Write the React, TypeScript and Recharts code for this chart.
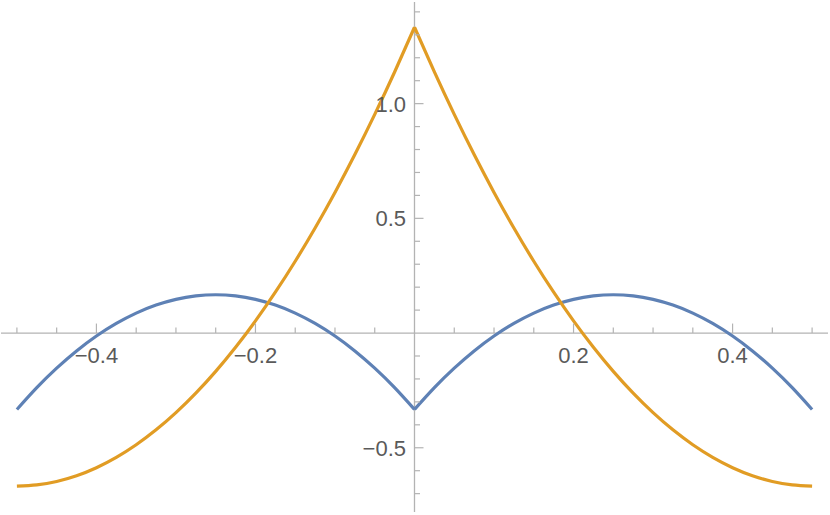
import React from "react";
import { LineChart, Line, XAxis, YAxis, ReferenceLine, ReferenceDot } from "recharts";

const xValues = [
  -0.5, -0.475, -0.45, -0.425, -0.4, -0.375, -0.35, -0.325, -0.3, -0.275, -0.25,
  -0.225, -0.2, -0.175, -0.15, -0.125, -0.1, -0.075, -0.05, -0.025, 0,
  0.025, 0.05, 0.075, 0.1, 0.125, 0.15, 0.175, 0.2, 0.225, 0.25,
  0.275, 0.3, 0.325, 0.35, 0.375, 0.4, 0.425, 0.45, 0.475, 0.5,
];

const blueValues = [
  -0.333, -0.238, -0.153, -0.078, -0.013, 0.042, 0.087, 0.122, 0.147, 0.162, 0.167,
  0.162, 0.147, 0.122, 0.087, 0.042, -0.013, -0.078, -0.153, -0.238, -0.333,
  -0.238, -0.153, -0.078, -0.013, 0.042, 0.087, 0.122, 0.147, 0.162, 0.167,
  0.162, 0.147, 0.122, 0.087, 0.042, -0.013, -0.078, -0.153, -0.238, -0.333,
];

const orangeValues = [
  -0.667, -0.662, -0.647, -0.622, -0.587, -0.542, -0.487, -0.422, -0.347, -0.262, -0.167,
  -0.062, 0.053, 0.178, 0.313, 0.458, 0.613, 0.778, 0.953, 1.138, 1.333,
  1.138, 0.953, 0.778, 0.613, 0.458, 0.313, 0.178, 0.053, -0.062, -0.167,
  -0.262, -0.347, -0.422, -0.487, -0.542, -0.587, -0.622, -0.647, -0.662, -0.667,
];

const xMajorTicks = [-0.4, -0.2, 0.2, 0.4];
const xTickLabels = ["\u22120.4", "\u22120.2", "0.2", "0.4"];
const xMinorTicks = [-0.5, -0.45, -0.35, -0.3, -0.25, -0.15, -0.1, -0.05, 0.05, 0.1, 0.15, 0.25, 0.3, 0.35, 0.45, 0.5];

const yMajorTicks = [-0.5, 0.5, 1.0];
const yTickLabels = ["\u22120.5", "0.5", "1.0"];
const yMinorTicks = [-0.7, -0.6, -0.4, -0.3, -0.2, -0.1, 0.1, 0.2, 0.3, 0.4, 0.6, 0.7, 0.8, 0.9, 1.1, 1.2, 1.3, 1.4];

// Each curve has a cusp at x = 0, so it is drawn as two smooth halves meeting there.
const data = xValues.map((x, i) => ({
  x,
  blueL: x <= 0 ? blueValues[i] : null,
  blueR: x >= 0 ? blueValues[i] : null,
  orangeL: x <= 0 ? orangeValues[i] : null,
  orangeR: x >= 0 ? orangeValues[i] : null,
}));

const AXIS_COLOR = "#b3b3b3";
const LABEL_COLOR = "#5a5a5a";
const BLUE = "#5E81B5";
const ORANGE = "#E19C24";
const FONT = "'Liberation Sans', Arial, Helvetica, sans-serif";

const xTickShape = (len: number) => (p: any) => (
  <line x1={p.cx} y1={p.cy} x2={p.cx} y2={p.cy - len} stroke={AXIS_COLOR} strokeWidth={1.2} />
);
const yTickShape = (len: number) => (p: any) => (
  <line x1={p.cx} y1={p.cy} x2={p.cx + len} y2={p.cy} stroke={AXIS_COLOR} strokeWidth={1.2} />
);
const xLabelShape = (text: string) => (p: any) => (
  <text x={p.cx} y={p.cy + 30} textAnchor="middle" fill={LABEL_COLOR} fontSize={22} fontFamily={FONT}>
    {text}
  </text>
);
const yLabelShape = (text: string) => (p: any) => (
  <text x={p.cx - 8.5} y={p.cy + 8} textAnchor="end" fill={LABEL_COLOR} fontSize={22} fontFamily={FONT}>
    {text}
  </text>
);

export default function App() {
  return (
    <div style={{ position: "absolute", left: 0, top: 0, width: 830, height: 515, background: "#fff" }}>
      <LineChart width={830} height={515} data={data} margin={{ top: 2, right: 2, bottom: 3, left: 1 }}>
        <XAxis dataKey="x" type="number" domain={[-0.52, 0.52]} hide allowDataOverflow />
        <YAxis type="number" domain={[-0.78, 1.443]} hide allowDataOverflow />
        <ReferenceLine y={0} stroke={AXIS_COLOR} strokeWidth={1.3} />
        <ReferenceLine x={0} stroke={AXIS_COLOR} strokeWidth={1.3} />
        {xMinorTicks.map((v) => (
          <ReferenceDot key={"xm" + v} x={v} y={0} r={0} shape={xTickShape(5.5)} />
        ))}
        {xMajorTicks.map((v) => (
          <ReferenceDot key={"xM" + v} x={v} y={0} r={0} shape={xTickShape(9.5)} />
        ))}
        {yMinorTicks.map((v) => (
          <ReferenceDot key={"ym" + v} x={0} y={v} r={0} shape={yTickShape(5.5)} />
        ))}
        {yMajorTicks.map((v) => (
          <ReferenceDot key={"yM" + v} x={0} y={v} r={0} shape={yTickShape(9)} />
        ))}
        {xMajorTicks.map((v, i) => (
          <ReferenceDot key={"xl" + v} x={v} y={0} r={0} shape={xLabelShape(xTickLabels[i])} />
        ))}
        {yMajorTicks.map((v, i) => (
          <ReferenceDot key={"yl" + v} x={0} y={v} r={0} shape={yLabelShape(yTickLabels[i])} />
        ))}
        <Line type="natural" dataKey="blueL" stroke={BLUE} strokeWidth={3.2} dot={false} isAnimationActive={false} />
        <Line type="natural" dataKey="blueR" stroke={BLUE} strokeWidth={3.2} dot={false} isAnimationActive={false} />
        <Line type="natural" dataKey="orangeL" stroke={ORANGE} strokeWidth={3.2} dot={false} isAnimationActive={false} />
        <Line type="natural" dataKey="orangeR" stroke={ORANGE} strokeWidth={3.2} dot={false} isAnimationActive={false} />
      </LineChart>
    </div>
  );
}
